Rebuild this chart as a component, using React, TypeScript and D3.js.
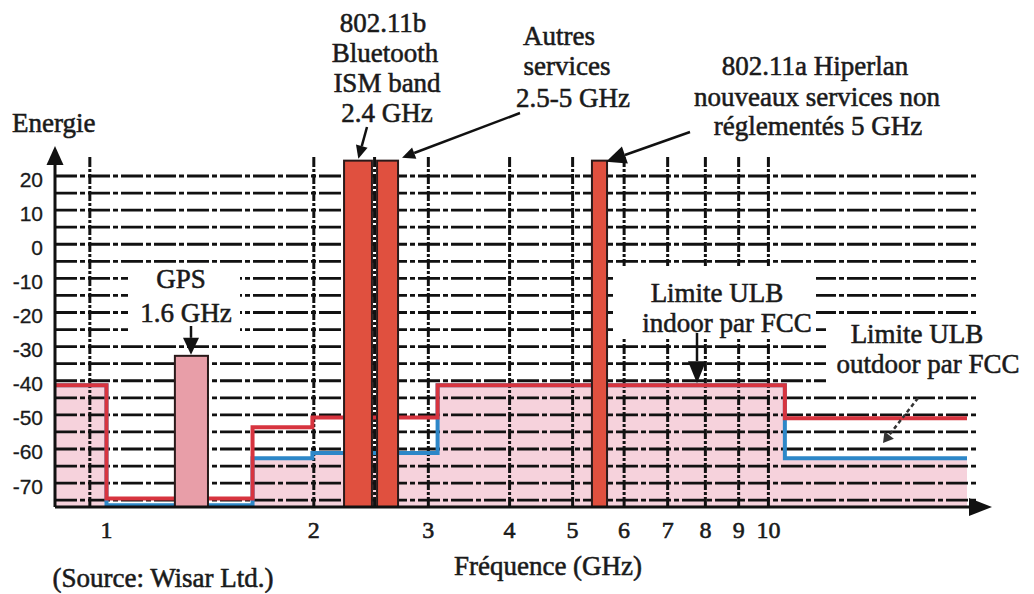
import React from "react";
import * as d3 from "d3";

const W = 1034;
const H = 594;

// Axis ticks
const yTickValues = [20, 10, 0, -10, -20, -30, -40, -50, -60, -70];
const hGridValues = [20, 15, 10, 5, 0, -5, -10, -15, -20, -25, -30, -35, -40, -45, -50, -55, -60, -65, -70, -75];
const xTickLabels = ["1", "2", "3", "4", "5", "6", "7", "8", "9", "10"];
const xTickFreqs = [0.96, 2, 3, 4, 5, 6, 7, 8, 9, 10];
const vGridFreqs = [0.905, 2, 2.48, 3, 4, 5, 6, 7, 8, 9, 10];

// FCC UWB masks (step start frequency in GHz, level)
const maskFreqs = [0.8, 0.96, 1.61, 1.99, 3.1, 10.6, 20.2];
const indoorLevels = [-41.3, -74.5, -53.6, -50.8, -41.3, -51, -51];
const outdoorLevels = [-41.3, -76.5, -62.7, -61.2, -41.3, -62.7, -62.7];

// Existing services bands
const bandNames = ["GPS", "802.11b", "Autres", "802.11a"];
const bandStart = [1.223, 2.226, 2.502, 5.354];
const bandEnd = [1.375, 2.457, 2.695, 5.648];
const bandTop = [-32.7, 24.5, 24.5, 24.5];

const SERIF = "'Liberation Serif', 'Times New Roman', serif";
const SANS = "'Liberation Sans', Arial, sans-serif";

function Arrow({ x1, y1, x2, y2, len, hw, dash, color = "#111", sw = 2.5 }: any) {
  const a = Math.atan2(y2 - y1, x2 - x1);
  const bx = x2 - len * Math.cos(a);
  const by = y2 - len * Math.sin(a);
  const lx = bx + hw * Math.sin(a);
  const ly = by - hw * Math.cos(a);
  const rx = bx - hw * Math.sin(a);
  const ry = by + hw * Math.cos(a);
  return (
    <g>
      <line x1={x1} y1={y1} x2={bx} y2={by} stroke={color} strokeWidth={sw} strokeDasharray={dash} />
      <polygon points={`${x2},${y2} ${lx},${ly} ${rx},${ry}`} fill={color} />
    </g>
  );
}

export default function App() {
  const x = d3.scaleLog().domain([0.8, 20.2]).range([55, 967]);
  const y = d3.scaleLinear().domain([-77, 20]).range([507, 176]);
  const yBottom = y(-77);

  const indoor = maskFreqs.map((f, i) => ({ f, v: indoorLevels[i] }));
  const outdoor = maskFreqs.map((f, i) => ({ f, v: outdoorLevels[i] }));

  const line = d3
    .line<{ f: number; v: number }>()
    .x((d) => x(d.f))
    .y((d) => y(d.v))
    .curve(d3.curveStepAfter);
  const area = d3
    .area<{ f: number; v: number }>()
    .x((d) => x(d.f))
    .y0(yBottom)
    .y1((d) => y(d.v))
    .curve(d3.curveStepAfter);

  const gridLeft = 55;
  const gridRight = 977;
  const vTop = 157;

  const txt = (s: string, cx: number, by: number, anchor = "middle", size = 27) => (
    <text
      x={cx}
      y={by}
      textAnchor={anchor}
      fontFamily={SERIF}
      fontSize={size}
      fill="#1a1a1a"
      stroke="#1a1a1a"
      strokeWidth={0.55}
    >
      {s}
    </text>
  );

  const bx = (i: number) => x(bandStart[i]);
  const bw = (i: number) => x(bandEnd[i]) - x(bandStart[i]);

  return (
    <svg width={W} height={H} style={{ position: "absolute", left: 0, top: 0, background: "#fff" }}>
      <rect x={0} y={0} width={W} height={H} fill="#fff" />
      {/* pink area under outdoor limit */}
      <path d={area(outdoor) || ""} fill="#f6d2dc" />

      {/* horizontal grid */}
      {hGridValues.map((v) => (
        <line
          key={"h" + v}
          x1={gridLeft}
          x2={gridRight}
          y1={y(v)}
          y2={y(v)}
          stroke="#111"
          strokeWidth={2.8}
          strokeDasharray="22,3,5,3"
        />
      ))}
      {/* vertical grid */}
      {vGridFreqs.map((f) => (
        <line
          key={"v" + f}
          x1={x(f)}
          x2={x(f)}
          y1={vTop}
          y2={yBottom}
          stroke="#111"
          strokeWidth={3}
          strokeDasharray="10,2,3,2"
        />
      ))}

      {/* white backgrounds behind labels */}
      <rect x={128} y={266} width={112} height={69} fill="#fff" />
      <rect x={614} y={266} width={202} height={71} fill="#fff" />
      <rect x={826} y={324} width={208} height={69} fill="#fff" />

      {/* limits */}
      <path d={line(outdoor) || ""} fill="none" stroke="#2d87c8" strokeWidth={4} />
      <path d={line(indoor) || ""} fill="none" stroke="#d7343f" strokeWidth={4} />

      {/* bands */}
      {bandNames.map((n, i) => (
        <rect
          key={n}
          x={bx(i)}
          y={y(bandTop[i])}
          width={bw(i)}
          height={yBottom - y(bandTop[i])}
          fill={i === 0 ? "#e89ea8" : "#e0503f"}
          stroke="#2a1a1a"
          strokeWidth={2}
        />
      ))}

      {/* axes */}
      <line x1={55} y1={yBottom} x2={55} y2={160} stroke="#111" strokeWidth={3} />
      <polygon points={`55,146 46.5,165 63.5,165`} fill="#111" />
      <line x1={55} y1={yBottom} x2={972} y2={yBottom} stroke="#111" strokeWidth={3} />
      <polygon points={`992,${yBottom} 969,${yBottom - 9} 969,${yBottom + 9}`} fill="#111" />

      {/* y ticks */}
      {yTickValues.map((v) => (
        <text
          key={"yt" + v}
          x={43}
          y={y(v) + 3}
          textAnchor="end"
          dominantBaseline="central"
          fontFamily={SANS}
          fontSize={21}
          fill="#1a1a1a"
          stroke="#1a1a1a"
          strokeWidth={0.3}
        >
          {v}
        </text>
      ))}
      {/* x ticks */}
      {xTickLabels.map((s, i) => (
        <text
          key={"xt" + s}
          x={x(xTickFreqs[i])}
          y={538}
          textAnchor="middle"
          fontFamily={SERIF}
          fontSize={24}
          fill="#1a1a1a"
          stroke="#1a1a1a"
          strokeWidth={0.6}
        >
          {s}
        </text>
      ))}

      {/* arrows */}
      <Arrow x1={367} y1={127} x2={x((bandStart[1] + bandEnd[1]) / 2)} y2={y(bandTop[1]) - 2} len={13} hw={6} />
      <Arrow x1={520} y1={113} x2={x(bandEnd[2]) + 4} y2={y(bandTop[2]) - 3} len={13} hw={6} />
      <Arrow x1={690} y1={132} x2={x(bandEnd[3]) - 1} y2={y(bandTop[3]) + 1} len={20} hw={9} />
      <Arrow x1={191} y1={326} x2={191} y2={y(bandTop[0]) - 1} len={17} hw={8} />
      <Arrow x1={697} y1={333} x2={697} y2={y(indoorLevels[4]) - 2} len={22} hw={9} />
      <Arrow x1={918} y1={398} x2={883} y2={443} len={10} hw={6} dash="4,3" color="#333" sw={2.5} />

      {/* texts */}
      {txt("Energie", 12, 132, "start")}
      {txt("802.11b", 383, 32)}
      {txt("Bluetooth", 385, 62)}
      {txt("ISM band", 387, 92)}
      {txt("2.4 GHz", 387, 122)}
      {txt("Autres", 559, 45)}
      {txt("services", 567, 75)}
      {txt("2.5-5 GHz", 573, 107)}
      {txt("802.11a Hiperlan", 815, 75)}
      {txt("nouveaux services non", 817, 106)}
      {txt("réglementés 5 GHz", 818, 135)}
      {txt("GPS", 181, 288)}
      {txt("1.6 GHz", 186, 322)}
      {txt("Limite ULB", 717, 302)}
      {txt("indoor par FCC", 727, 332)}
      {txt("Limite ULB", 917, 343)}
      {txt("outdoor par FCC", 928, 373)}
      {txt("Fréquence (GHz)", 548, 575)}
      {txt("(Source: Wisar Ltd.)", 163, 587)}
    </svg>
  );
}
